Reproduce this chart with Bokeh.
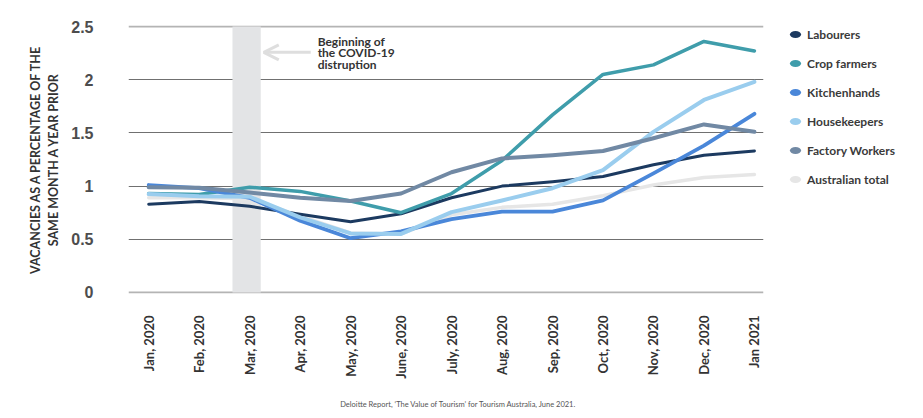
import math
from bokeh.plotting import figure
from bokeh.layouts import row, column
from bokeh.models import (Range1d, FixedTicker, Grid, BoxAnnotation, Arrow, OpenHead,
                          Label, Legend, LegendItem)
from bokeh.embed import file_html
from bokeh.resources import INLINE

# ---------------- data ----------------
months = ["Jan, 2020", "Feb, 2020", "Mar, 2020", "Apr, 2020", "May, 2020", "June, 2020",
          "July, 2020", "Aug, 2020", "Sep, 2020", "Oct, 2020", "Nov, 2020", "Dec, 2020",
          "Jan 2021"]

labourers = [0.83, 0.855, 0.81, 0.735, 0.665, 0.74, 0.89, 1.0, 1.04, 1.09, 1.2, 1.29, 1.33]
crop_farmers = [0.93, 0.92, 0.99, 0.95, 0.86, 0.75, 0.93, 1.24, 1.67, 2.05, 2.14, 2.36, 2.27]
kitchenhands = [1.01, 0.98, 0.89, 0.675, 0.51, 0.575, 0.69, 0.76, 0.76, 0.865, 1.12, 1.38, 1.68]
housekeepers = [0.925, 0.905, 0.9, 0.705, 0.555, 0.55, 0.755, 0.865, 0.98, 1.15, 1.51, 1.81, 1.98]
factory_workers = [0.99, 0.985, 0.94, 0.89, 0.86, 0.93, 1.13, 1.26, 1.29, 1.33, 1.45, 1.58, 1.51]
australian_total = [0.89, 0.89, 0.88, 0.72, 0.56, 0.55, 0.73, 0.80, 0.83, 0.91, 1.01, 1.08, 1.11]

series_names = ["Labourers", "Crop farmers", "Kitchenhands", "Housekeepers",
                "Factory Workers", "Australian total"]

y_ticks = [0, 0.5, 1, 1.5, 2, 2.5]
y_tick_labels = ["0", "0.5", "1", "1.5", "2", "2.5"]

y_title = "VACANCIES AS A PERCENTAGE OF THE\nSAME MONTH A YEAR PRIOR"
note_lines = ["Beginning of", "the COVID-19", "distruption"]
source_note = "Deloitte Report, \u2018The Value of Tourism\u2019 for Tourism Australia, June 2021."

# ---------------- styling ----------------
colors = {
    "Labourers": "#1c3a60",
    "Crop farmers": "#3f9dab",
    "Kitchenhands": "#4a87d9",
    "Housekeepers": "#9acdee",
    "Factory Workers": "#7189a4",
    "Australian total": "#e6e6e6",
}
widths = {
    "Labourers": 3,
    "Crop farmers": 3.5,
    "Kitchenhands": 3.8,
    "Housekeepers": 4,
    "Factory Workers": 4,
    "Australian total": 3.5,
}
FONT = "Lato"

x = list(range(len(months)))

MAIN_W, MAIN_H = 775, 398
p = figure(width=MAIN_W, height=MAIN_H, output_backend="svg", toolbar_location=None,
           x_range=Range1d(-0.4, 12.18), y_range=Range1d(-0.01, 2.51),
           min_border_left=128, min_border_right=12,
           min_border_top=25, min_border_bottom=105)
p.outline_line_color = None
p.background_fill_color = "white"
p.border_fill_color = "white"

# grids
p.xgrid.visible = False
p.ygrid.ticker = FixedTicker(ticks=[0.5, 1, 1.5, 2])
p.ygrid.grid_line_color = "#707070"
p.ygrid.grid_line_width = 1
edge_grid = Grid(dimension=1, ticker=FixedTicker(ticks=[0, 2.5]),
                 grid_line_color="#b4b4b4", grid_line_width=2)
p.add_layout(edge_grid)

# shaded COVID band
band = BoxAnnotation(left=1.66, right=2.22, bottom=0, top=2.5, fill_color="#e3e4e6",
                     fill_alpha=1, line_color=None, level="underlay")
p.add_layout(band)

# y axis
yax = p.yaxis[0]
yax.ticker = FixedTicker(ticks=y_ticks)
yax.major_label_overrides = {t: l for t, l in zip(y_ticks, y_tick_labels)}
yax.axis_line_color = None
yax.major_tick_line_color = None
yax.minor_tick_line_color = None
yax.major_label_text_font = "Liberation Sans"
yax.major_label_text_font_style = "bold"
yax.major_label_text_font_size = "16px"
yax.major_label_text_color = "#4d4d4d"
yax.major_label_standoff = 29
yax.axis_label = y_title
yax.axis_label_text_font = FONT
yax.axis_label_text_font_style = "bold"
yax.axis_label_text_font_size = "12.5px"
yax.axis_label_text_color = "#333333"
yax.axis_label_standoff = 7

# x axis
xax = p.xaxis[0]
xax.ticker = FixedTicker(ticks=x)
xax.major_label_overrides = {i: m for i, m in zip(x, months)}
xax.axis_line_color = None
xax.major_tick_line_color = None
xax.minor_tick_line_color = None
xax.major_label_orientation = math.pi / 2
xax.major_label_text_font = FONT
xax.major_label_text_font_style = "bold"
xax.major_label_text_font_size = "13px"
xax.major_label_text_color = "#333333"
xax.major_label_standoff = 16

# lines
data = {
    "Labourers": labourers,
    "Crop farmers": crop_farmers,
    "Kitchenhands": kitchenhands,
    "Housekeepers": housekeepers,
    "Factory Workers": factory_workers,
    "Australian total": australian_total,
}
draw_order = ["Australian total", "Labourers", "Crop farmers", "Kitchenhands",
              "Housekeepers", "Factory Workers"]
for name in draw_order:
    p.line(x, data[name], line_color=colors[name], line_width=widths[name],
           line_join="round", line_cap="round")

# arrow + annotation
arrow = Arrow(x_start=3.21, y_start=2.258, x_end=2.28, y_end=2.258,
              line_color="#dedede", line_width=3,
              end=OpenHead(size=15, line_color="#dedede", line_width=3))
p.add_layout(arrow)
for k, t in enumerate(note_lines):
    p.add_layout(Label(x=3.347, y=2.43 - k * 0.108, text=t, text_baseline="top",
                       text_align="left", text_font=FONT, text_font_style="bold",
                       text_font_size="12px", text_color="#333333"))

# ---------------- legend panel ----------------
SIDE_W = 132
side = figure(width=SIDE_W, height=MAIN_H, output_backend="svg", toolbar_location=None,
              x_axis_location=None, y_axis_location=None,
              x_range=Range1d(0, 1), y_range=Range1d(0, 1),
              min_border=0, min_border_left=0, min_border_right=0,
              min_border_top=0, min_border_bottom=0)
side.outline_line_color = None
side.xgrid.visible = False
side.ygrid.visible = False
items = []
for name in series_names:
    # placed outside the visible range; used only for the oval legend swatch
    r = side.ellipse(x=[-10], y=[-10], width=11, height=7,
                     width_units="screen", height_units="screen",
                     fill_color=colors[name], line_color=None)
    items.append(LegendItem(label=name, renderers=[r]))
legend = Legend(items=items, location=(13, 104), orientation="vertical",
                glyph_width=14, glyph_height=20, label_height=20, spacing=9,
                padding=0, margin=0, border_line_color=None,
                background_fill_alpha=0, label_standoff=5,
                label_text_font=FONT, label_text_font_style="bold",
                label_text_font_size="12px", label_text_color="#3a3a3a")
side.add_layout(legend)

# ---------------- source note ----------------
foot = figure(width=MAIN_W + SIDE_W, height=12, output_backend="svg", toolbar_location=None,
              x_axis_location=None, y_axis_location=None,
              x_range=Range1d(0, 1), y_range=Range1d(0, 1),
              min_border=0, min_border_left=0, min_border_right=0,
              min_border_top=0, min_border_bottom=0)
foot.outline_line_color = None
foot.xgrid.visible = False
foot.ygrid.visible = False
foot.add_layout(Label(x=458, y=6, x_units="screen", y_units="screen", text=source_note,
                      text_align="center", text_baseline="middle", text_font=FONT,
                      text_font_size="7.5px", text_color="#555555"))

layout = column(row(p, side, spacing=0), foot, spacing=0)
open("out.html", "w").write(file_html(layout, INLINE))
